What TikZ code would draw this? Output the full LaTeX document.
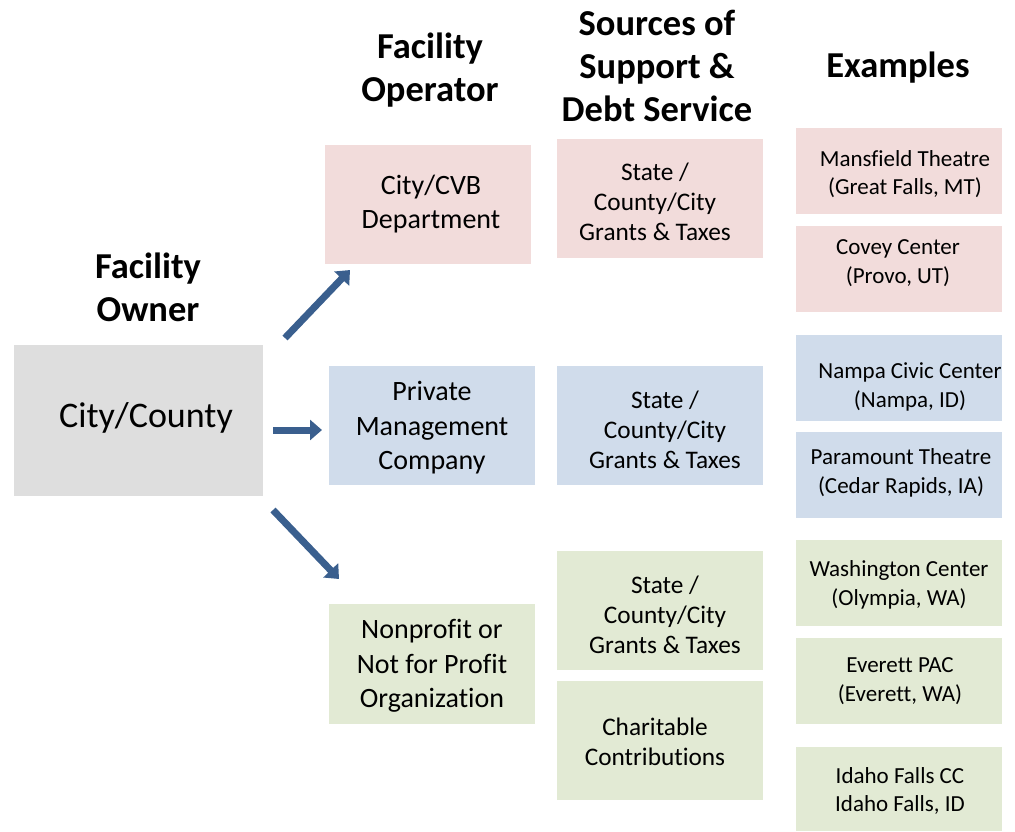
\documentclass[tikz,border=0pt]{standalone}
\usepackage{fontspec}
\setmainfont[Ligatures=NoCommon]{Carlito}
\usetikzlibrary{arrows.meta}
\definecolor{pinkc}{HTML}{F2DCDB}
\definecolor{bluec}{HTML}{D0DCEB}
\definecolor{greenc}{HTML}{E2EAD4}
\definecolor{grayc}{HTML}{DEDEDE}
\definecolor{arrowc}{HTML}{3A5F8E}
\begin{document}
\begin{tikzpicture}[x=1pt,y=-1pt,
  box/.style={inner sep=0pt, outer sep=0pt, align=center, text=black},
  hdr/.style={align=center, font=\fontsize{36.5}{43}\selectfont\bfseries},
  opr/.style={box, font=\fontsize{28}{34.5}\selectfont},
  mid/.style={box, font=\fontsize{25.3}{30}\selectfont},
  exm/.style={box, font=\fontsize{23}{28.5}\selectfont},
  arr/.style={draw=arrowc, line width=7pt, -{Triangle[length=12pt,width=20pt]}}]
\useasboundingbox (0,0) rectangle (1015,831);
% headers
\node[hdr] (hOwner) at (148,287) {Facility\\Owner};
\node[hdr] (hOper) at (430,70) {Facility\\Operator};
\node[hdr] (hSrc) at (657,66) {Sources of\\Support \&\\Debt Service};
\node[hdr] (hEx) at (898,68) {Examples};
% owner
\fill[grayc] (14,345) rectangle (263,496);
\node[box, font=\fontsize{36}{42}\selectfont] (owner) at (146,418) {City/County};
% operators
\fill[pinkc] (325,145) rectangle (531,264);
\node[opr] (op1) at (431,204) {City/CVB\\Department};
\fill[bluec] (329,366) rectangle (535,485);
\node[opr] (op2) at (432,428) {Private\\Management\\Company};
\fill[greenc] (329,604) rectangle (535,724);
\node[opr] (op3) at (432,666) {Nonprofit or\\Not for Profit\\Organization};
% sources
\fill[pinkc] (557,139) rectangle (763,258);
\node[mid] (s1) at (655,202) {State /\\County/City\\Grants \& Taxes};
\fill[bluec] (557,366) rectangle (763,485);
\node[mid] (s2) at (665,430) {State /\\County/City\\Grants \& Taxes};
\fill[greenc] (557,551) rectangle (763,670);
\node[mid] (s3) at (665,615) {State /\\County/City\\Grants \& Taxes};
\fill[greenc] (557,681) rectangle (763,800);
\node[mid] (s4) at (655,742) {Charitable\\Contributions};
% examples
\fill[pinkc] (796,128) rectangle (1002,214);
\node[exm] (e1) at (905,174) {Mansfield Theatre\\(Great Falls, MT)};
\fill[pinkc] (796,226) rectangle (1002,312);
\node[exm] (e2) at (898,263) {Covey Center\\(Provo, UT)};
\fill[bluec] (796,335) rectangle (1002,421);
\node[exm] (e3) at (910,387) {Nampa Civic Center\\(Nampa, ID)};
\fill[bluec] (796,432) rectangle (1002,518);
\node[exm] (e4) at (901,473) {Paramount Theatre\\(Cedar Rapids, IA)};
\fill[greenc] (796,540) rectangle (1002,626);
\node[exm] (e5) at (899,585) {Washington Center\\(Olympia, WA)};
\fill[greenc] (796,638) rectangle (1002,724);
\node[exm] (e6) at (900,681) {Everett PAC\\(Everett, WA)};
\fill[greenc] (796,747) rectangle (1002,831);
\node[exm] (e7) at (900,791) {Idaho Falls CC\\Idaho Falls, ID};
% arrows
\coordinate (a1s) at (285,338);
\coordinate (a1e) at (350,270);
\coordinate (a2s) at (273,430);
\coordinate (a2e) at (322,430);
\coordinate (a3s) at (273,510);
\coordinate (a3e) at (339,579);
\draw[arr] (a1s) -- (a1e);
\draw[arr] (a2s) -- (a2e);
\draw[arr] (a3s) -- (a3e);
\end{tikzpicture}
\end{document}
